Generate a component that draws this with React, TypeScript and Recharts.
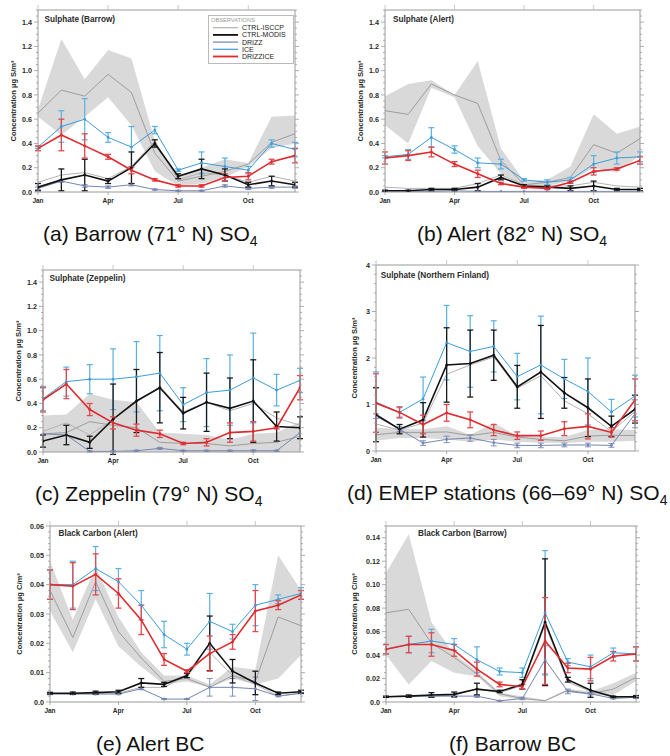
import { ComposedChart, Area, Line, XAxis, YAxis, ErrorBar } from "recharts";

const FONT = '"Liberation Sans", Arial, Helvetica, sans-serif';

// x axis: one point per month, Jan..Dec
const MONTHS = [0, 1, 2, 3, 4, 5, 6, 7, 8, 9, 10, 11];
const MONTH_TICKS = [0, 3, 6, 9];
const MONTH_LABELS = ["Jan", "Apr", "Jul", "Oct"];

// y tick labels
const SO4_TICKS = [0, 0.2, 0.4, 0.6, 0.8, 1.0, 1.2, 1.4];
const SO4_TICK_LABELS = ["0.0", "0.2", "0.4", "0.6", "0.8", "1.0", "1.2", "1.4"];
const FIN_TICKS = [0, 1, 2, 3, 4];
const FIN_TICK_LABELS = ["0", "1", "2", "3", "4"];
const BCA_TICKS = [0, 0.01, 0.02, 0.03, 0.04, 0.05, 0.06];
const BCA_TICK_LABELS = ["0.0", "0.01", "0.02", "0.03", "0.04", "0.05", "0.06"];
const BCB_TICKS = [0, 0.02, 0.04, 0.06, 0.08, 0.1, 0.12, 0.14];
const BCB_TICK_LABELS = ["0.0", "0.02", "0.04", "0.06", "0.08", "0.10", "0.12", "0.14"];

// (a) Barrow SO4
const BRW_OBS_LO = [0.62, 0.47, 0.62, 0.78, 0.55, 0.17, 0.05, 0.07, 0.12, 0.21, 0.36, 0.4];
const BRW_OBS_MID = [0.65, 0.84, 0.79, 0.97, 0.82, 0.32, 0.09, 0.13, 0.17, 0.23, 0.41, 0.48];
const BRW_OBS_HI = [0.68, 1.26, 0.93, 1.17, 1.1, 0.42, 0.12, 0.2, 0.27, 0.24, 0.62, 0.63];
const BRW_ISCCP = [0.08, 0.14, 0.16, 0.11, 0.21, 0.42, 0.1, 0.16, 0.14, 0.08, 0.13, 0.09];
const BRW_MODIS = [0.04, 0.1, 0.14, 0.09, 0.2, 0.4, 0.13, 0.19, 0.14, 0.06, 0.09, 0.06];
const BRW_MODIS_ERR = [0.03, 0.09, 0.13, 0.02, 0.13, 0.03, 0.02, 0.08, 0.05, 0.02, 0.04, 0.02];
const BRW_DRIZZ = [0.03, 0.09, 0.05, 0.04, 0.06, 0.02, 0.01, 0.01, 0.05, 0.03, 0.04, 0.04];
const BRW_DRIZZ_ERR = [0.01, 0.01, 0.01, 0.01, 0.01, 0.005, 0.005, 0.005, 0.01, 0.01, 0.01, 0.01];
const BRW_ICE = [0.37, 0.54, 0.6, 0.45, 0.37, 0.51, 0.18, 0.24, 0.21, 0.18, 0.4, 0.35];
const BRW_ICE_ERR = [0.01, 0.13, 0.17, 0.04, 0.17, 0.03, 0.01, 0.09, 0.07, 0.03, 0.03, 0.06];
const BRW_DRIZZICE = [0.36, 0.47, 0.38, 0.29, 0.18, 0.1, 0.05, 0.05, 0.12, 0.13, 0.25, 0.3];
const BRW_DRIZZICE_ERR = [0.02, 0.13, 0.1, 0.02, 0.03, 0.01, 0.01, 0.01, 0.03, 0.03, 0.02, 0.06];

// (b) Alert SO4
const ALT_OBS_LO = [0.55, 0.4, 0.86, 0.78, 0.38, 0.15, 0.04, 0.05, 0.09, 0.2, 0.16, 0.3];
const ALT_OBS_MID = [0.67, 0.64, 0.89, 0.8, 0.73, 0.26, 0.06, 0.08, 0.12, 0.39, 0.32, 0.44];
const ALT_OBS_HI = [0.79, 0.89, 0.92, 0.8, 1.08, 0.36, 0.09, 0.1, 0.21, 0.64, 0.48, 0.54];
const ALT_ISCCP = [0.04, 0.03, 0.03, 0.03, 0.07, 0.14, 0.06, 0.05, 0.05, 0.08, 0.05, 0.04];
const ALT_MODIS = [0.01, 0.01, 0.02, 0.02, 0.04, 0.12, 0.05, 0.04, 0.03, 0.05, 0.02, 0.02];
const ALT_MODIS_ERR = [0.005, 0.005, 0.01, 0.01, 0.03, 0.02, 0.01, 0.01, 0.02, 0.04, 0.01, 0.01];
const ALT_DRIZZ = [0.005, 0.005, 0.005, 0.01, 0.005, 0.005, 0.005, 0.005, 0.005, 0.005, 0.005, 0.005];
const ALT_DRIZZ_ERR = [0, 0, 0, 0, 0, 0, 0, 0, 0, 0, 0, 0];
const ALT_ICE = [0.29, 0.31, 0.45, 0.35, 0.24, 0.23, 0.1, 0.08, 0.1, 0.23, 0.28, 0.29];
const ALT_ICE_ERR = [0.01, 0.04, 0.08, 0.03, 0.04, 0.04, 0.01, 0.02, 0.02, 0.07, 0.05, 0.04];
const ALT_DRIZZICE = [0.28, 0.3, 0.33, 0.23, 0.15, 0.07, 0.04, 0.03, 0.08, 0.17, 0.19, 0.26];
const ALT_DRIZZICE_ERR = [0.05, 0.04, 0.04, 0.02, 0.03, 0.01, 0.01, 0.01, 0.01, 0.03, 0.01, 0.03];

// (c) Zeppelin SO4
const ZEP_OBS_LO = [0, 0, 0, 0, 0, 0, 0, 0, 0, 0, 0, 0];
const ZEP_OBS_MID = [0.15, 0.16, 0.25, 0.22, 0.2, 0.08, 0.07, 0.07, 0.05, 0.07, 0.08, 0.13];
const ZEP_OBS_HI = [0.3, 0.31, 0.48, 0.43, 0.41, 0.16, 0.15, 0.14, 0.1, 0.15, 0.16, 0.25];
const ZEP_ISCCP = [0.17, 0.24, 0.14, 0.27, 0.41, 0.54, 0.33, 0.41, 0.34, 0.4, 0.28, 0.22];
const ZEP_MODIS = [0.09, 0.14, 0.08, 0.27, 0.42, 0.53, 0.32, 0.41, 0.36, 0.42, 0.21, 0.2];
const ZEP_MODIS_ERR = [0.05, 0.08, 0.05, 0.29, 0.26, 0.29, 0.13, 0.24, 0.25, 0.34, 0.12, 0.09];
const ZEP_DRIZZ = [0.15, 0.14, 0.005, 0.005, 0.01, 0.03, 0.01, 0.01, 0.01, 0.01, 0.01, 0.16];
const ZEP_DRIZZ_ERR = [0, 0, 0.005, 0.005, 0.005, 0.008, 0.005, 0.005, 0.005, 0.008, 0.005, 0];
const ZEP_ICE = [0.44, 0.58, 0.6, 0.6, 0.62, 0.65, 0.39, 0.49, 0.51, 0.61, 0.51, 0.59];
const ZEP_ICE_ERR = [0.1, 0.12, 0.12, 0.25, 0.29, 0.31, 0.14, 0.28, 0.29, 0.37, 0.13, 0.1];
const ZEP_DRIZZICE = [0.43, 0.56, 0.35, 0.24, 0.18, 0.15, 0.07, 0.08, 0.16, 0.17, 0.2, 0.53];
const ZEP_DRIZZICE_ERR = [0.1, 0.12, 0.05, 0.05, 0.05, 0.03, 0.01, 0.03, 0.08, 0.08, 0.01, 0.1];

// (d) EMEP stations, Northern Finland SO4
const FIN_OBS_LO = [0.22, 0.28, 0.28, 0.25, 0.2, 0.25, 0.2, 0.18, 0.17, 0.2, 0.2, 0.22];
const FIN_OBS_MID = [0.35, 0.4, 0.4, 0.41, 0.33, 0.4, 0.3, 0.25, 0.22, 0.32, 0.34, 0.33];
const FIN_OBS_HI = [0.5, 0.48, 0.47, 0.53, 0.35, 0.6, 0.33, 0.3, 0.3, 0.45, 0.47, 0.45];
const FIN_ISCCP = [0.58, 0.45, 0.6, 1.65, 1.85, 2.02, 1.35, 1.62, 1.08, 0.8, 0.42, 0.85];
const FIN_MODIS = [0.78, 0.47, 0.67, 1.85, 1.88, 2.06, 1.38, 1.7, 1.25, 0.93, 0.53, 0.9];
const FIN_MODIS_ERR = [0.58, 0.1, 0.37, 0.8, 0.72, 0.54, 0.46, 1.0, 0.33, 0.62, 0.22, 0.3];
const FIN_DRIZZ = [0.75, 0.47, 0.17, 0.25, 0.28, 0.18, 0.12, 0.12, 0.13, 0.13, 0.12, 0.8];
const FIN_DRIZZ_ERR = [0.05, 0.05, 0.05, 0.07, 0.07, 0.07, 0.05, 0.05, 0.04, 0.04, 0.04, 0.3];
const FIN_ICE = [1.05, 0.83, 1.12, 2.33, 2.14, 2.25, 1.6, 1.85, 1.55, 1.28, 0.84, 1.18];
const FIN_ICE_ERR = [0.65, 0.1, 0.47, 0.8, 0.77, 0.55, 0.5, 1.05, 0.42, 0.72, 0.27, 0.45];
const FIN_DRIZZICE = [1.03, 0.83, 0.57, 0.82, 0.67, 0.45, 0.33, 0.33, 0.48, 0.53, 0.4, 1.1];
const FIN_DRIZZICE_ERR = [0.63, 0.12, 0.2, 0.18, 0.17, 0.12, 0.08, 0.1, 0.15, 0.27, 0.1, 0.45];

// (e) Alert BC
const BCA_OBS_LO = [0.031, 0.017, 0.035, 0.019, 0.012, 0.006, 0.007, 0.005, 0.008, 0.006, 0.008, 0.016];
const BCA_OBS_MID = [0.038, 0.022, 0.041, 0.024, 0.015, 0.007, 0.008, 0.005, 0.009, 0.007, 0.029, 0.026];
const BCA_OBS_HI = [0.048, 0.028, 0.046, 0.029, 0.017, 0.009, 0.009, 0.006, 0.012, 0.011, 0.05, 0.038];
const BCA_ISCCP = [0.0028, 0.0028, 0.003, 0.003, 0.005, 0.005, 0.009, 0.017, 0.009, 0.006, 0.002, 0.003];
const BCA_MODIS = [0.003, 0.003, 0.0032, 0.0035, 0.0065, 0.006, 0.009, 0.02, 0.0105, 0.0065, 0.003, 0.0035];
const BCA_MODIS_ERR = [0.0003, 0.0004, 0.0005, 0.0005, 0.0015, 0.0007, 0.0007, 0.0093, 0.004, 0.004, 0.0004, 0.0005];
const BCA_DRIZZ = [0.0027, 0.0027, 0.0027, 0.0027, 0.0045, 0.001, 0.001, 0.005, 0.005, 0.0045, 0.002, 0.003];
const BCA_DRIZZ_ERR = [0.0002, 0.0002, 0.0002, 0.0002, 0.0003, 0.0002, 0.0001, 0.003, 0.003, 0.004, 0.0002, 0.0002];
const BCA_ICE = [0.04, 0.04, 0.0455, 0.041, 0.033, 0.023, 0.018, 0.0275, 0.024, 0.033, 0.035, 0.037];
const BCA_ICE_ERR = [0.005, 0.008, 0.0075, 0.0045, 0.005, 0.0045, 0.002, 0.0095, 0.0025, 0.007, 0.0015, 0.002];
const BCA_DRIZZICE = [0.04, 0.0395, 0.0435, 0.037, 0.028, 0.0145, 0.0105, 0.0165, 0.0205, 0.031, 0.033, 0.0365];
const BCA_DRIZZICE_ERR = [0.005, 0.008, 0.007, 0.005, 0.005, 0.002, 0.0005, 0.006, 0.0025, 0.007, 0.0015, 0.0015];

// (f) Barrow BC
const BCB_OBS_LO = [0.04, 0.015, 0.035, 0.025, 0.022, 0.005, 0.002, 0.001, 0.009, 0.006, 0.006, 0.018];
const BCB_OBS_MID = [0.076, 0.079, 0.05, 0.038, 0.024, 0.007, 0.003, 0.001, 0.01, 0.007, 0.011, 0.021];
const BCB_OBS_HI = [0.11, 0.143, 0.068, 0.041, 0.026, 0.008, 0.005, 0.002, 0.011, 0.009, 0.016, 0.025];
const BCB_ISCCP = [0.0045, 0.005, 0.005, 0.006, 0.011, 0.008, 0.014, 0.066, 0.017, 0.009, 0.004, 0.005];
const BCB_MODIS = [0.0045, 0.005, 0.006, 0.0065, 0.011, 0.009, 0.015, 0.068, 0.019, 0.01, 0.0045, 0.0045];
const BCB_MODIS_ERR = [0.0005, 0.001, 0.002, 0.002, 0.005, 0.001, 0.004, 0.054, 0.002, 0.006, 0.0005, 0.001];
const BCB_DRIZZ = [0.0045, 0.005, 0.005, 0.005, 0.005, 0.001, 0.003, 0.036, 0.009, 0.007, 0.003, 0.004];
const BCB_DRIZZ_ERR = [0.0003, 0.0005, 0.001, 0.001, 0.001, 0.0003, 0.001, 0.012, 0.002, 0.001, 0.0003, 0.0003];
const BCB_ICE = [0.045, 0.049, 0.052, 0.049, 0.036, 0.026, 0.025, 0.076, 0.034, 0.03, 0.042, 0.041];
const BCB_ICE_ERR = [0.004, 0.007, 0.01, 0.005, 0.011, 0.003, 0.004, 0.053, 0.003, 0.01, 0.004, 0.006];
const BCB_DRIZZICE = [0.045, 0.049, 0.049, 0.044, 0.028, 0.015, 0.013, 0.052, 0.029, 0.028, 0.039, 0.041];
const BCB_DRIZZICE_ERR = [0.004, 0.007, 0.01, 0.005, 0.006, 0.002, 0.002, 0.037, 0.004, 0.01, 0.004, 0.006];

const C_BAND = "#d9d9d9";
const C_OBS = "#9d9d9d";
const C_ISCCP = "#b3b3b3";
const C_MODIS = "#111111";
const C_DRIZZ = "#7585b3";
const C_ICE = "#3d9cd8";
const C_DRIZZICE = "#e02a2e";
const C_FRAME = "#9a9a9a";
const C_TEXT = "#2a2a2a";

type SeriesSet = {
  lo: number[]; mid: number[]; hi: number[];
  isccp: number[];
  modis: number[]; modisErr: number[];
  drizz: number[]; drizzErr: number[];
  ice: number[]; iceErr: number[];
  drizzice: number[]; drizziceErr: number[];
};

type PanelCfg = {
  px: number; py: number; pw: number; ph: number;
  yMax: number; minorStep: number;
  majors: number[]; majorLabels: string[];
  s: SeriesSet;
  title: string; tx: number; ty: number;
  ylabel: string; ylx: number;
  caption: string; sub: string; cx: number; cy: number;
};

const PANELS: PanelCfg[] = [
  {
    px: 38, py: 10, pw: 257, ph: 182, yMax: 1.5, minorStep: 0.05,
    majors: SO4_TICKS, majorLabels: SO4_TICK_LABELS,
    s: { lo: BRW_OBS_LO, mid: BRW_OBS_MID, hi: BRW_OBS_HI, isccp: BRW_ISCCP, modis: BRW_MODIS, modisErr: BRW_MODIS_ERR, drizz: BRW_DRIZZ, drizzErr: BRW_DRIZZ_ERR, ice: BRW_ICE, iceErr: BRW_ICE_ERR, drizzice: BRW_DRIZZICE, drizziceErr: BRW_DRIZZICE_ERR },
    title: "Sulphate (Barrow)", tx: 44.5, ty: 21.5,
    ylabel: "Concentration µg S/m³", ylx: 13,
    caption: "(a) Barrow (71° N) SO", sub: "4", cx: 43, cy: 241,
  },
  {
    px: 385, py: 10, pw: 255, ph: 182, yMax: 1.5, minorStep: 0.05,
    majors: SO4_TICKS, majorLabels: SO4_TICK_LABELS,
    s: { lo: ALT_OBS_LO, mid: ALT_OBS_MID, hi: ALT_OBS_HI, isccp: ALT_ISCCP, modis: ALT_MODIS, modisErr: ALT_MODIS_ERR, drizz: ALT_DRIZZ, drizzErr: ALT_DRIZZ_ERR, ice: ALT_ICE, iceErr: ALT_ICE_ERR, drizzice: ALT_DRIZZICE, drizziceErr: ALT_DRIZZICE_ERR },
    title: "Sulphate (Alert)", tx: 393, ty: 22.3,
    ylabel: "Concentration µg S/m³", ylx: 360,
    caption: "(b) Alert (82° N) SO", sub: "4", cx: 417, cy: 241,
  },
  {
    px: 43, py: 270, pw: 257, ph: 182, yMax: 1.5, minorStep: 0.05,
    majors: SO4_TICKS, majorLabels: SO4_TICK_LABELS,
    s: { lo: ZEP_OBS_LO, mid: ZEP_OBS_MID, hi: ZEP_OBS_HI, isccp: ZEP_ISCCP, modis: ZEP_MODIS, modisErr: ZEP_MODIS_ERR, drizz: ZEP_DRIZZ, drizzErr: ZEP_DRIZZ_ERR, ice: ZEP_ICE, iceErr: ZEP_ICE_ERR, drizzice: ZEP_DRIZZICE, drizziceErr: ZEP_DRIZZICE_ERR },
    title: "Sulphate (Zeppelin)", tx: 49.5, ty: 281.3,
    ylabel: "Concentration µg S/m³", ylx: 18.3,
    caption: "(c) Zeppelin (79° N) SO", sub: "4", cx: 35, cy: 501,
  },
  {
    px: 376, py: 265, pw: 259, ph: 186, yMax: 4, minorStep: 0.2,
    majors: FIN_TICKS, majorLabels: FIN_TICK_LABELS,
    s: { lo: FIN_OBS_LO, mid: FIN_OBS_MID, hi: FIN_OBS_HI, isccp: FIN_ISCCP, modis: FIN_MODIS, modisErr: FIN_MODIS_ERR, drizz: FIN_DRIZZ, drizzErr: FIN_DRIZZ_ERR, ice: FIN_ICE, iceErr: FIN_ICE_ERR, drizzice: FIN_DRIZZICE, drizziceErr: FIN_DRIZZICE_ERR },
    title: "Sulphate (Northern Finland)", tx: 380.7, ty: 278,
    ylabel: "Concentration µg S/m³", ylx: 354.3,
    caption: "(d) EMEP stations (66–69° N) SO", sub: "4", cx: 347, cy: 500,
  },
  {
    px: 50, py: 526, pw: 251, ph: 176, yMax: 0.06, minorStep: 0.002,
    majors: BCA_TICKS, majorLabels: BCA_TICK_LABELS,
    s: { lo: BCA_OBS_LO, mid: BCA_OBS_MID, hi: BCA_OBS_HI, isccp: BCA_ISCCP, modis: BCA_MODIS, modisErr: BCA_MODIS_ERR, drizz: BCA_DRIZZ, drizzErr: BCA_DRIZZ_ERR, ice: BCA_ICE, iceErr: BCA_ICE_ERR, drizzice: BCA_DRIZZICE, drizziceErr: BCA_DRIZZICE_ERR },
    title: "Black Carbon (Alert)", tx: 58.5, ty: 536.3,
    ylabel: "Concentration µg C/m³", ylx: 19.3,
    caption: "(e) Alert BC", sub: "", cx: 96, cy: 751,
  },
  {
    px: 386, py: 526, pw: 250, ph: 176, yMax: 0.15, minorStep: 0.005,
    majors: BCB_TICKS, majorLabels: BCB_TICK_LABELS,
    s: { lo: BCB_OBS_LO, mid: BCB_OBS_MID, hi: BCB_OBS_HI, isccp: BCB_ISCCP, modis: BCB_MODIS, modisErr: BCB_MODIS_ERR, drizz: BCB_DRIZZ, drizzErr: BCB_DRIZZ_ERR, ice: BCB_ICE, iceErr: BCB_ICE_ERR, drizzice: BCB_DRIZZICE, drizziceErr: BCB_DRIZZICE_ERR },
    title: "Black Carbon (Barrow)", tx: 418, ty: 536.3,
    ylabel: "Concentration µg C/m³", ylx: 354.3,
    caption: "(f) Barrow BC", sub: "", cx: 449, cy: 751,
  },
];

const LEGEND_ITEMS = [
  { name: "CTRL-ISCCP", color: C_ISCCP, w: 1.2 },
  { name: "CTRL-MODIS", color: C_MODIS, w: 1.8 },
  { name: "DRIZZ", color: C_DRIZZ, w: 1.2 },
  { name: "ICE", color: C_ICE, w: 1.2 },
  { name: "DRIZZICE", color: C_DRIZZICE, w: 1.8 },
];

// tick positions for the minor marks along the y axes
function tickRange(max: number, step: number) {
  const out: number[] = [];
  const n = Math.round(max / step);
  for (let k = 0; k <= n; k++) out.push(+(k * step).toFixed(6));
  return out;
}

function LeftTick(props: any) {
  const { x, y, payload, majors, labels } = props;
  const idx = majors.findIndex((v: number) => Math.abs(v - payload.value) < 1e-7);
  const major = idx >= 0;
  return (
    <g>
      <line x1={x - (major ? 4 : 2)} x2={x} y1={y} y2={y} stroke={C_FRAME} strokeWidth={0.8} />
      {major && (
        <text x={x - 6} y={y} dy={2.6} textAnchor="end" fontSize={7.2} fontWeight="bold" fill={C_TEXT} fontFamily={FONT}>
          {labels[idx]}
        </text>
      )}
    </g>
  );
}

function RightTick(props: any) {
  const { x, y, payload, majors } = props;
  const major = majors.some((v: number) => Math.abs(v - payload.value) < 1e-7);
  return <line x1={x} x2={x + (major ? 4 : 2)} y1={y} y2={y} stroke={C_FRAME} strokeWidth={0.8} />;
}

function BottomTick(props: any) {
  const { x, y, payload } = props;
  const idx = MONTH_TICKS.indexOf(payload.value);
  return (
    <g>
      <line x1={x} x2={x} y1={y} y2={y + 3} stroke={C_FRAME} strokeWidth={0.8} />
      <text x={x} y={y + 10.5} textAnchor="middle" fontSize={6.5} fontWeight="bold" fill={C_TEXT} fontFamily={FONT}>
        {MONTH_LABELS[idx]}
      </text>
    </g>
  );
}

function TopTick(props: any) {
  const { x, y } = props;
  return <line x1={x} x2={x} y1={y - 5} y2={y} stroke="#bbbbbb" strokeWidth={0.8} />;
}

function Panel({ cfg }: { cfg: PanelCfg }) {
  const L = 40, R = 6, T = 6, B = 16;
  const s = cfg.s;
  const rows = MONTHS.map((m, i) => ({
    m,
    band: [s.lo[i], s.hi[i]],
    obs: s.mid[i],
    isccp: s.isccp[i],
    modis: s.modis[i],
    modisErr: s.modisErr[i],
    drizz: s.drizz[i],
    drizzErr: s.drizzErr[i],
    ice: s.ice[i],
    iceErr: s.iceErr[i],
    drizzice: s.drizzice[i],
    drizziceErr: s.drizziceErr[i],
  }));
  const yTicks = tickRange(cfg.yMax, cfg.minorStep);
  const dot = (c: string) => ({ r: 1.2, fill: c, stroke: c, strokeWidth: 0.4 });

  return (
    <div style={{ position: "absolute", left: cfg.px - L, top: cfg.py - T }}>
      <ComposedChart
        width={L + cfg.pw + R}
        height={T + cfg.ph + B}
        data={rows}
        margin={{ top: 0, right: 0, bottom: 0, left: 0 }}
      >
        <XAxis
          xAxisId="b" dataKey="m" type="number" domain={[0, 11]} ticks={MONTH_TICKS}
          interval={0} height={B} tickSize={0} tickMargin={0} tickLine={false}
          axisLine={{ stroke: C_FRAME }} tick={(p: any) => <BottomTick {...p} />} allowDataOverflow
        />
        <XAxis
          xAxisId="t" orientation="top" dataKey="m" type="number" domain={[0, 11]} ticks={MONTH_TICKS}
          interval={0} height={T} tickSize={0} tickMargin={0} tickLine={false}
          axisLine={{ stroke: C_FRAME }} tick={(p: any) => <TopTick {...p} />} allowDataOverflow
        />
        <YAxis
          yAxisId="l" type="number" domain={[0, cfg.yMax]} ticks={yTicks} interval={0}
          width={L} tickSize={0} tickMargin={0} tickLine={false} axisLine={{ stroke: C_FRAME }}
          tick={(p: any) => <LeftTick {...p} majors={cfg.majors} labels={cfg.majorLabels} />}
          allowDataOverflow
        />
        <YAxis
          yAxisId="r" orientation="right" type="number" domain={[0, cfg.yMax]} ticks={yTicks} interval={0}
          width={R} tickSize={0} tickMargin={0} tickLine={false} axisLine={{ stroke: C_FRAME }}
          tick={(p: any) => <RightTick {...p} majors={cfg.majors} />}
          allowDataOverflow
        />

        <Area
          xAxisId="b" yAxisId="l" dataKey="band" type="linear"
          stroke="none" fill={C_BAND} fillOpacity={1} isAnimationActive={false}
        />
        <Line xAxisId="b" yAxisId="l" dataKey="obs" type="linear" stroke={C_OBS} strokeWidth={1} dot={false} activeDot={false} isAnimationActive={false} />
        <Line xAxisId="b" yAxisId="l" dataKey="isccp" type="linear" stroke={C_ISCCP} strokeWidth={1} dot={false} activeDot={false} isAnimationActive={false} />
        <Line xAxisId="b" yAxisId="l" dataKey="drizz" type="linear" stroke={C_DRIZZ} strokeWidth={1} dot={dot(C_DRIZZ)} activeDot={false} isAnimationActive={false}>
          <ErrorBar dataKey="drizzErr" direction="y" width={3} stroke={C_DRIZZ} strokeWidth={0.9} isAnimationActive={false} />
        </Line>
        <Line xAxisId="b" yAxisId="l" dataKey="ice" type="linear" stroke={C_ICE} strokeWidth={1} dot={dot(C_ICE)} activeDot={false} isAnimationActive={false}>
          <ErrorBar dataKey="iceErr" direction="y" width={3} stroke="#59b0e2" strokeWidth={1.2} isAnimationActive={false} />
        </Line>
        <Line xAxisId="b" yAxisId="l" dataKey="modis" type="linear" stroke={C_MODIS} strokeWidth={1.6} dot={dot(C_MODIS)} activeDot={false} isAnimationActive={false}>
          <ErrorBar dataKey="modisErr" direction="y" width={3} stroke="#1a1a1a" strokeWidth={1.3} isAnimationActive={false} />
        </Line>
        <Line xAxisId="b" yAxisId="l" dataKey="drizzice" type="linear" stroke={C_DRIZZICE} strokeWidth={1.6} dot={dot(C_DRIZZICE)} activeDot={false} isAnimationActive={false}>
          <ErrorBar dataKey="drizziceErr" direction="y" width={3} stroke="#e5484c" strokeWidth={1.3} isAnimationActive={false} />
        </Line>
      </ComposedChart>
    </div>
  );
}

function Overlay() {
  return (
    <svg
      width={670}
      height={756}
      style={{ position: "absolute", left: 0, top: 0, pointerEvents: "none" }}
      fontFamily={FONT}
    >
      {PANELS.map((p, i) => (
        <g key={i}>
          <text x={p.tx} y={p.ty} fontSize={8.2} fontWeight="bold" fill={C_TEXT}>{p.title}</text>
          <text
            transform={`translate(${p.ylx},${p.py + p.ph / 2}) rotate(-90)`}
            dy={2.6} textAnchor="middle" fontSize={7.6} fontWeight="bold" fill={C_TEXT}
          >
            {p.ylabel}
          </text>
          <text x={p.cx} y={p.cy} fontSize={21} fill="#111">
            {p.caption}
            {p.sub && <tspan fontSize={14} dy={5}>{p.sub}</tspan>}
          </text>
        </g>
      ))}

      {/* legend of panel (a) */}
      <rect x={208.5} y={15.5} width={85} height={48} fill="#fff" stroke="#aaaaaa" strokeWidth={0.8} />
      <text x={211} y={22} fontSize={5.7} fill="#9a9a9a">OBSERVATIONS</text>
      {LEGEND_ITEMS.map((it, i) => {
        const y = 27.7 + i * 7.2;
        return (
          <g key={it.name}>
            <line x1={213} x2={238} y1={y} y2={y} stroke={it.color} strokeWidth={it.w} />
            <text x={242} y={y + 2.5} fontSize={7} fill="#222">{it.name}</text>
          </g>
        );
      })}
    </svg>
  );
}

export default function App() {
  return (
    <div style={{ position: "absolute", left: 0, top: 0, width: 670, height: 756, background: "#fff", fontFamily: FONT }}>
      {PANELS.map((p, i) => (
        <Panel key={i} cfg={p} />
      ))}
      <Overlay />
    </div>
  );
}
